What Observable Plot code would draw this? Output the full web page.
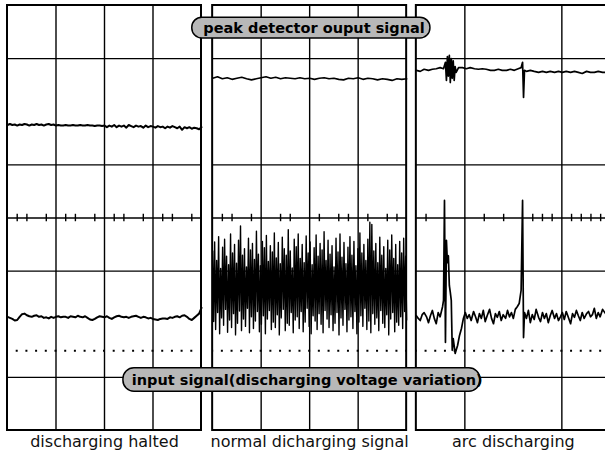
<!DOCTYPE html>
<html><head><meta charset="utf-8">
<script src="https://cdn.jsdelivr.net/npm/d3@7"></script>
<script src="https://cdn.jsdelivr.net/npm/@observablehq/plot@0.6"></script>
<style>
html,body{margin:0;padding:0;background:#fff;overflow:hidden}
#chart svg{display:block;overflow:hidden}
</style>
</head><body><div id="chart"></div>
<script>
// panel captions and layout in oscilloscope divisions
const panels = ["discharging halted", "normal dicharging signal", "arc discharging"];
const panelStart = [0, 4.23, 8.43];
const panelSpan = 4;
const gridXs = [[1, 2, 3], [1, 2, 3], [1, 3]];
const gridYs = [3, 1, 0, -1, -3];
const tickXs = [
  [0.2, 0.4, 0.8, 1.2, 1.4, 1.8, 2.2, 2.4, 2.8, 3.2, 3.4, 3.8],
  [0.2, 0.4, 0.8, 1.4, 1.6, 2.2, 2.6, 2.8, 3.2, 3.6, 3.8],
  [0.2, 1.4, 1.8, 2.4, 2.6, 2.8, 3.2, 3.4, 3.6, 3.8]
];
const dottedY = -2.5;
const titleTop = "peak detector ouput signal";
const titleBottom = "input signal(discharging voltage variation)";

// panel 1: discharging halted (uniform samples over 4 div)
const haltedPeak = [
  1.75,1.77,1.75,1.76,1.74,1.76,1.75,1.77,1.76,1.74,1.76,1.75,1.77,1.75,1.76,1.74,1.76,1.77,1.75,1.76,
  1.74,1.75,1.74,1.74,1.75,1.74,1.74,1.75,1.74,1.74,1.75,1.74,1.74,1.75,1.74,1.74,1.73,1.74,1.74,1.73,
  1.74,1.71,1.74,1.72,1.75,1.71,1.74,1.72,1.74,1.70,1.75,1.73,1.71,1.74,1.72,1.73,1.70,1.74,1.71,1.73,
  1.72,1.70,1.73,1.71,1.72,1.69,1.72,1.70,1.73,1.71,1.69,1.72,1.66,1.71,1.69,1.71,1.68,1.70,1.69,1.67,
  1.71
];
const haltedInput = [
  -1.86,-1.88,-1.90,-1.93,-1.92,-1.86,-1.81,-1.80,-1.83,-1.85,-1.86,-1.84,-1.83,-1.86,-1.85,-1.88,-1.87,-1.89,-1.86,-1.88,
  -1.86,-1.85,-1.87,-1.86,-1.86,-1.88,-1.85,-1.86,-1.87,-1.84,-1.86,-1.87,-1.85,-1.88,-1.91,-1.92,-1.90,-1.87,-1.85,-1.86,
  -1.87,-1.85,-1.88,-1.90,-1.87,-1.85,-1.84,-1.86,-1.87,-1.86,-1.88,-1.86,-1.85,-1.84,-1.86,-1.88,-1.86,-1.87,-1.89,-1.88,
  -1.90,-1.91,-1.92,-1.90,-1.89,-1.89,-1.90,-1.87,-1.88,-1.86,-1.85,-1.87,-1.84,-1.83,-1.86,-1.90,-1.92,-1.88,-1.84,-1.80,
  -1.69
];

// panel 2: normal discharging
const normalPeak = [
  2.63,2.66,2.62,2.64,2.61,2.63,2.65,2.62,2.60,2.62,2.64,2.66,2.63,2.65,2.62,2.64,2.63,2.62,2.64,2.62,
  2.63,2.61,2.63,2.64,2.62,2.63,2.61,2.60,2.63,2.62,2.64,2.61,2.63,2.62,2.60,2.62,2.61,2.59,2.62,2.61,
  2.62
];
const normalInputHigh = [
  -0.62,-0.45,-0.80,-0.35,-0.95,-0.55,-0.40,-0.72,-0.88,-0.30,
  -0.66,-0.50,-0.85,-0.42,-0.15,-0.70,-0.58,-0.92,-0.38,-0.60,
  -0.48,-0.78,-0.25,-0.68,-0.90,-0.44,-0.56,-0.33,-0.82,-0.52,
  -0.64,-0.28,-0.75,-0.46,-0.86,-0.36,-0.58,-0.70,-0.22,-0.62,
  -0.94,-0.40,-0.54,-0.30,-0.76,-0.50,-0.84,-0.34,-0.66,-0.45,
  -0.88,-0.56,-0.32,-0.72,-0.48,-0.60,-0.26,-0.80,-0.42,-0.68,
  -0.52,-0.92,-0.38,-0.64,-0.30,-0.74,-0.46,-0.86,-0.55,-0.35,
  -0.70,-0.44,-0.90,-0.58,-0.28,-0.66,-0.50,-0.80,-0.40,-0.08,
  -0.12,-0.62,-0.48,-0.84,-0.36,-0.70,-0.54,-0.95,-0.42,-0.60,
  -0.32,-0.76,-0.50,-0.88,-0.44,-0.66,-0.38,-0.72
];
const normalInputLow = [
  -1.95,-2.10,-1.78,-2.18,-1.88,-2.02,-1.72,-2.15,-1.92,-2.06,
  -1.80,-2.20,-1.98,-1.75,-2.12,-1.90,-2.04,-1.70,-2.16,-1.86,
  -2.08,-1.94,-1.76,-2.14,-2.00,-1.84,-2.18,-1.90,-1.74,-2.10,
  -1.96,-2.06,-1.82,-2.20,-1.88,-1.72,-2.12,-1.98,-2.02,-1.78,
  -2.16,-1.92,-1.86,-2.08,-1.76,-2.14,-1.96,-1.70,-2.04,-2.18,
  -1.84,-1.94,-2.10,-1.80,-2.00,-2.16,-1.74,-1.90,-2.06,-1.82,
  -2.12,-1.98,-1.78,-2.20,-1.88,-2.02,-1.72,-2.14,-1.92,-1.86,
  -2.08,-1.76,-2.18,-1.96,-1.84,-2.04,-1.70,-2.10,-1.94,-2.16,
  -1.80,-2.00,-1.88,-2.12,-1.74,-1.98,-2.06,-1.82,-2.20,-1.90,
  -1.78,-2.14,-1.96,-2.02,-1.86,-2.08,-1.76,-1.92
];

// panel 3: arc discharging, [time (div), value (div)]
const arcPeak = [
  [0,2.78],[0.08,2.76],[0.16,2.80],[0.25,2.78],[0.33,2.80],[0.41,2.81],[0.49,2.83],[0.56,2.81],
  [0.60,2.93],[0.62,2.59],[0.64,3.04],[0.66,2.67],[0.68,3.06],[0.70,2.55],[0.72,3.00],[0.74,2.63],
  [0.76,2.96],[0.78,2.59],[0.80,2.85],[0.82,2.74],
  [0.87,2.83],[0.95,2.83],[1.03,2.81],[1.11,2.83],[1.20,2.81],[1.28,2.80],[1.36,2.81],[1.44,2.80],
  [1.53,2.78],[1.61,2.78],[1.69,2.80],[1.77,2.78],[1.86,2.78],[1.94,2.80],[2.02,2.78],[2.10,2.81],
  [2.16,2.83],[2.19,2.93],[2.21,2.27],[2.23,2.78],
  [2.27,2.76],[2.35,2.78],[2.43,2.76],[2.52,2.74],[2.60,2.76],[2.68,2.74],[2.76,2.76],[2.85,2.74],
  [2.93,2.76],[3.01,2.74],[3.09,2.76],[3.18,2.74],[3.26,2.76],[3.34,2.74],[3.42,2.72],[3.51,2.76],
  [3.59,2.74],[3.67,2.74],[3.75,2.76],[3.84,2.74],[3.90,2.74]
];
const arcInput = [
  [0,-1.84],[0.04,-1.89],[0.08,-1.93],[0.12,-1.82],[0.16,-1.78],[0.21,-1.86],[0.25,-1.97],[0.29,-1.84],
  [0.33,-1.74],[0.37,-1.89],[0.41,-1.99],[0.45,-1.78],[0.49,-1.86],[0.54,-1.67],[0.56,-1.55],[0.58,0.33],
  [0.60,-2.34],[0.62,-0.42],[0.64,-0.84],[0.66,-0.71],[0.68,-1.27],[0.70,-1.40],[0.72,-1.55],[0.74,-2.49],
  [0.76,-2.27],[0.80,-2.55],[0.85,-2.40],[0.89,-2.21],[0.93,-2.08],[0.97,-1.89],[1.01,-1.78],[1.05,-1.89],
  [1.09,-1.82],[1.13,-1.93],[1.18,-1.76],[1.22,-1.86],[1.26,-1.97],[1.30,-1.80],[1.34,-1.89],[1.38,-1.74],
  [1.42,-1.95],[1.46,-1.84],[1.51,-1.72],[1.55,-1.89],[1.59,-1.99],[1.63,-1.80],[1.67,-1.87],[1.71,-1.76],
  [1.75,-1.93],[1.79,-1.82],[1.84,-1.89],[1.88,-1.74],[1.92,-1.86],[1.96,-1.78],[2.00,-1.89],[2.04,-1.72],
  [2.08,-1.67],[2.12,-1.61],[2.16,-1.36],[2.19,0.33],[2.21,-2.25],[2.23,-1.78],[2.27,-1.89],[2.31,-1.74],
  [2.35,-1.97],[2.39,-1.82],[2.43,-1.91],[2.47,-1.72],[2.52,-1.87],[2.56,-1.95],[2.60,-1.78],[2.64,-1.89],
  [2.68,-1.80],[2.72,-1.97],[2.76,-1.84],[2.80,-1.74],[2.85,-1.89],[2.89,-1.80],[2.93,-1.93],[2.97,-1.86],
  [3.01,-1.78],[3.05,-1.91],[3.09,-1.76],[3.13,-1.86],[3.18,-1.99],[3.22,-1.80],[3.26,-1.87],[3.30,-1.74],
  [3.34,-1.84],[3.38,-1.93],[3.42,-1.78],[3.46,-1.89],[3.51,-1.80],[3.55,-1.76],[3.59,-1.86],[3.63,-1.82],
  [3.67,-1.70],[3.71,-1.89],[3.75,-1.78],[3.79,-1.86],[3.84,-1.72],[3.90,-1.80]
];

// ---- build tables ----
const uniform = (vals, start) => vals.map((v, i) => ({x: start + i * panelSpan / (vals.length - 1), y: v}));
const interleaved = normalInputHigh.flatMap((h, i) => [h, normalInputLow[i]]);
const timed = (pairs, start) => pairs.map(([t, v]) => ({x: start + t, y: v}));

const traces = [
  {data: uniform(haltedPeak, panelStart[0]), w: 2},
  {data: uniform(haltedInput, panelStart[0]), w: 2},
  {data: uniform(normalPeak, panelStart[1]), w: 1.6},
  {data: uniform(interleaved, panelStart[1]), w: 1.4},
  {data: timed(arcPeak, panelStart[2]), w: 1.7},
  {data: timed(arcInput, panelStart[2]), w: 1.7}
];

const vGrid = gridXs.flatMap((arr, k) => arr.map(t => panelStart[k] + t));
const hGrid = panelStart.flatMap(s => gridYs.map(y => ({y, x1: s, x2: s + panelSpan})));
const ticks = tickXs.flatMap((arr, k) => arr.map(t => panelStart[k] + t));

const chart = Plot.plot({
  width: 605, height: 452,
  marginLeft: 7, marginRight: 0, marginTop: 5, marginBottom: 22,
  x: {domain: [0, 598 / 48.5], axis: null},
  y: {domain: [-4, 4], axis: null},
  style: {background: "#fff"},
  marks: [
    Plot.ruleX(vGrid, {x: d => d, y1: -4, y2: 4, stroke: "#000", strokeWidth: 1.4}),
    Plot.ruleY(hGrid, {y: "y", x1: "x1", x2: "x2", stroke: "#000", strokeWidth: 1.4}),
    Plot.ruleX(ticks, {x: d => d, y1: -0.07, y2: 0.07, stroke: "#000", strokeWidth: 1.4}),
    Plot.ruleY(panelStart, {y: dottedY, x1: d => d, x2: d => d + panelSpan, stroke: "#000",
      strokeWidth: 2, strokeDasharray: "2 7.7", strokeDashoffset: 1}),
    ...traces.map(t => Plot.line(t.data, {x: "x", y: "y", stroke: "#000", strokeWidth: t.w, strokeLinejoin: "round"})),
    Plot.rect(panelStart, {x1: d => d, x2: d => d + panelSpan, y1: -4, y2: 4, fill: "none", stroke: "#000", strokeWidth: 2}),
    Plot.rect([titleTop], {x1: 3.81, x2: 8.72, y1: 3.38, y2: 3.77, rx: 10, fill: "#b8b8b8", stroke: "#000", strokeWidth: 1.5}),
    Plot.text([titleTop], {x: 6.32, y: 3.575, text: d => d, fontFamily: "DejaVu Sans", fontWeight: "bold", fontSize: 14.5, fill: "#000"}),
    Plot.rect([titleBottom], {x1: 2.39, x2: 9.75, y1: -3.27, y2: -2.83, rx: 11, fill: "#b8b8b8", stroke: "#000", strokeWidth: 1.5}),
    Plot.text([titleBottom], {x: 6.18, y: -3.05, text: d => d, fontFamily: "DejaVu Sans", fontWeight: "bold", fontSize: 14.5, fill: "#000"}),
    Plot.text(panels, {x: (d, i) => panelStart[i] + panelSpan / 2, y: -4, dy: 11, text: d => d,
      fontFamily: "DejaVu Sans", fontSize: 16, fill: "#111", lineAnchor: "middle"})
  ]
});
document.getElementById("chart").appendChild(chart);
</script>
</body></html>
